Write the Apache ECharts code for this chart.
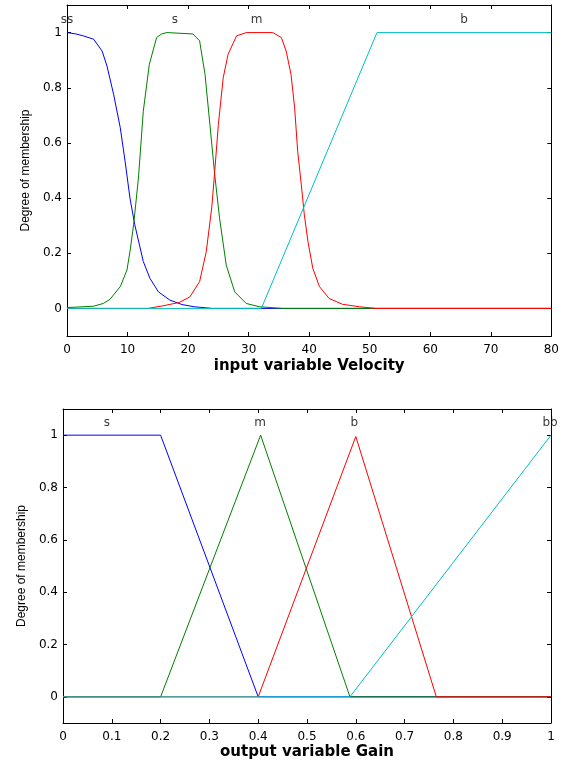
<!DOCTYPE html>
<html>
<head>
<meta charset="utf-8">
<script src="https://cdn.jsdelivr.net/npm/echarts@6/dist/echarts.min.js"></script>
<style>
html,body{margin:0;padding:0;background:#fff;}
#chart{width:562px;height:761px;}
</style>
</head>
<body>
<div id="chart"></div>
<script>
// ---- Top plot: input variable Velocity ----
var velTicks = [0, 10, 20, 30, 40, 50, 60, 70, 80];
var ssX = [0, 1.5, 2.7, 4.4, 5.8, 6.6, 7.7, 8.8, 9.6, 10.4, 11.2, 12.6, 13.7, 15.1, 17, 19, 21, 24, 80];
var ssY = [1, 0.995, 0.988, 0.976, 0.933, 0.879, 0.776, 0.655, 0.533, 0.4, 0.303, 0.17, 0.109, 0.06, 0.03, 0.014, 0.006, 0, 0];
var sX = [0, 4.4, 6.0, 7.1, 8.8, 9.9, 10.4, 11.0, 11.8, 12.6, 13.6, 14.8, 15.6, 16.5, 20.8, 21.9, 22.8, 23.6, 24.4, 25.2, 26.3, 27.7, 29.6, 31.8, 35.6, 80];
var sY = [0.003, 0.008, 0.018, 0.033, 0.079, 0.139, 0.206, 0.303, 0.473, 0.715, 0.885, 0.982, 0.995, 1, 0.995, 0.97, 0.848, 0.667, 0.485, 0.327, 0.157, 0.06, 0.018, 0.006, 0, 0];
var mX = [0, 13.4, 16, 18.6, 20.3, 21.9, 23.0, 23.9, 24.4, 25.0, 25.8, 26.6, 28.0, 29.6, 34.0, 35.4, 36.2, 37.0, 37.6, 38.1, 38.7, 39.2, 39.8, 40.6, 41.7, 43.3, 45.5, 48.3, 51, 80];
var mY = [0, 0, 0.01, 0.022, 0.042, 0.097, 0.206, 0.364, 0.497, 0.667, 0.836, 0.921, 0.988, 1, 1, 0.982, 0.933, 0.848, 0.727, 0.57, 0.448, 0.339, 0.242, 0.145, 0.079, 0.036, 0.015, 0.006, 0, 0];
var bX = [0, 32.1, 51.2, 80];
var bY = [0, 0, 1, 1];
var velNames = ['ss', 's', 'm', 'b'];
var velNameX = [0, 17.8, 31.3, 65.6];

// ---- Bottom plot: output variable Gain ----
var gainTicks = [0, 0.1, 0.2, 0.3, 0.4, 0.5, 0.6, 0.7, 0.8, 0.9, 1];
var gsX = [0, 0.2, 0.4, 1];
var gsY = [1, 1, 0, 0];
var gmX = [0, 0.2, 0.405, 0.588, 1];
var gmY = [0, 0, 1, 0, 0];
var gbX = [0, 0.4, 0.6, 0.765, 1];
var gbY = [0, 0, 0.995, 0, 0];
var gbbX = [0, 0.588, 1];
var gbbY = [0, 0, 1];
var gainNames = ['s', 'm', 'b', 'bb'];
var gainNameX = [0.09, 0.404, 0.597, 0.998];

var memTicks = [0, 0.2, 0.4, 0.6, 0.8, 1];
var nameY = 1.047;

function zip(xs, ys) { return xs.map(function (x, i) { return [x, ys[i]]; }); }

var tickFont = { fontFamily: 'DejaVu Sans', fontSize: 12, color: '#000' };
var lineAxis = { show: true, lineStyle: { color: '#000', width: 1 }, onZero: false };
var tick = { show: true, inside: true, length: 4, lineStyle: { color: '#000', width: 1 } };

function xAxes(gridIndex, min, max, interval, title, gap) {
  return [{
    type: 'value', gridIndex: gridIndex, position: 'bottom', min: min, max: max, interval: interval,
    axisLine: lineAxis, axisTick: tick, splitLine: { show: false },
    axisLabel: Object.assign({ margin: 8, showMinLabel: true, showMaxLabel: true,
      formatter: function (v) { return String(Math.round(v * 1000) / 1000); } }, tickFont),
    name: title, nameLocation: 'middle', nameGap: gap,
    nameTextStyle: { fontFamily: 'DejaVu Sans', fontWeight: 'bold', fontSize: 15, color: '#000' }
  }, {
    type: 'value', gridIndex: gridIndex, position: 'top', min: min, max: max, interval: interval,
    axisLine: lineAxis, axisTick: tick, splitLine: { show: false }, axisLabel: { show: false }
  }];
}
function yAxes(gridIndex, gap) {
  return [{
    type: 'value', gridIndex: gridIndex, position: 'left', min: -0.1, max: 1.1,
    axisLine: lineAxis, splitLine: { show: false },
    axisTick: Object.assign({ customValues: memTicks }, tick),
    axisLabel: Object.assign({ customValues: memTicks, margin: 5,
      formatter: function (v) { return String(Math.round(v * 1000) / 1000); } }, tickFont),
    name: 'Degree of membership', nameLocation: 'middle', nameRotate: 90, nameGap: gap,
    nameTextStyle: { fontFamily: 'Liberation Sans', fontSize: 12, color: '#000' }
  }, {
    type: 'value', gridIndex: gridIndex, position: 'right', min: -0.1, max: 1.1,
    axisLine: lineAxis, splitLine: { show: false },
    axisTick: Object.assign({ customValues: memTicks }, tick),
    axisLabel: { show: false }
  }];
}

function lineSeries(xs, ys, color, xi, yi) {
  return { type: 'line', xAxisIndex: xi, yAxisIndex: yi, data: zip(xs, ys), showSymbol: false, symbol: 'none',
    lineStyle: { color: color, width: 1 }, itemStyle: { color: color }, silent: true, animation: false, clip: false };
}
function nameSeries(names, xs, xi, yi) {
  return { type: 'scatter', xAxisIndex: xi, yAxisIndex: yi, symbolSize: 0, silent: true, animation: false, clip: false,
    data: names.map(function (n, i) { return { name: n, value: [xs[i], nameY] }; }),
    label: { show: true, position: 'inside', formatter: '{b}', fontFamily: 'DejaVu Sans', fontSize: 12, color: '#000' } };
}

var chart = echarts.init(document.getElementById('chart'), null, { renderer: 'canvas' });
chart.setOption({
  backgroundColor: '#fff',
  animation: false,
  grid: [
    { left: 67, top: 5, width: 486, height: 331 },
    { left: 63, top: 409, width: 488, height: 317 }
  ],
  xAxis: xAxes(0, 0, 80, 10, 'input variable Velocity', 23).concat(xAxes(1, 0, 1, 0.1, 'output variable Gain', 22)),
  yAxis: yAxes(0, 33).concat(yAxes(1, 34)),
  series: [
    lineSeries(ssX, ssY, '#0000ff', 0, 0),
    lineSeries(sX, sY, '#008000', 0, 0),
    lineSeries(mX, mY, '#ff0000', 0, 0),
    lineSeries(bX, bY, '#00bfbf', 0, 0),
    nameSeries(velNames, velNameX, 0, 0),
    lineSeries(gsX, gsY, '#0000ff', 2, 2),
    lineSeries(gmX, gmY, '#008000', 2, 2),
    lineSeries(gbX, gbY, '#ff0000', 2, 2),
    lineSeries(gbbX, gbbY, '#00bfbf', 2, 2),
    nameSeries(gainNames, gainNameX, 2, 2)
  ]
});
</script>
</body>
</html>
